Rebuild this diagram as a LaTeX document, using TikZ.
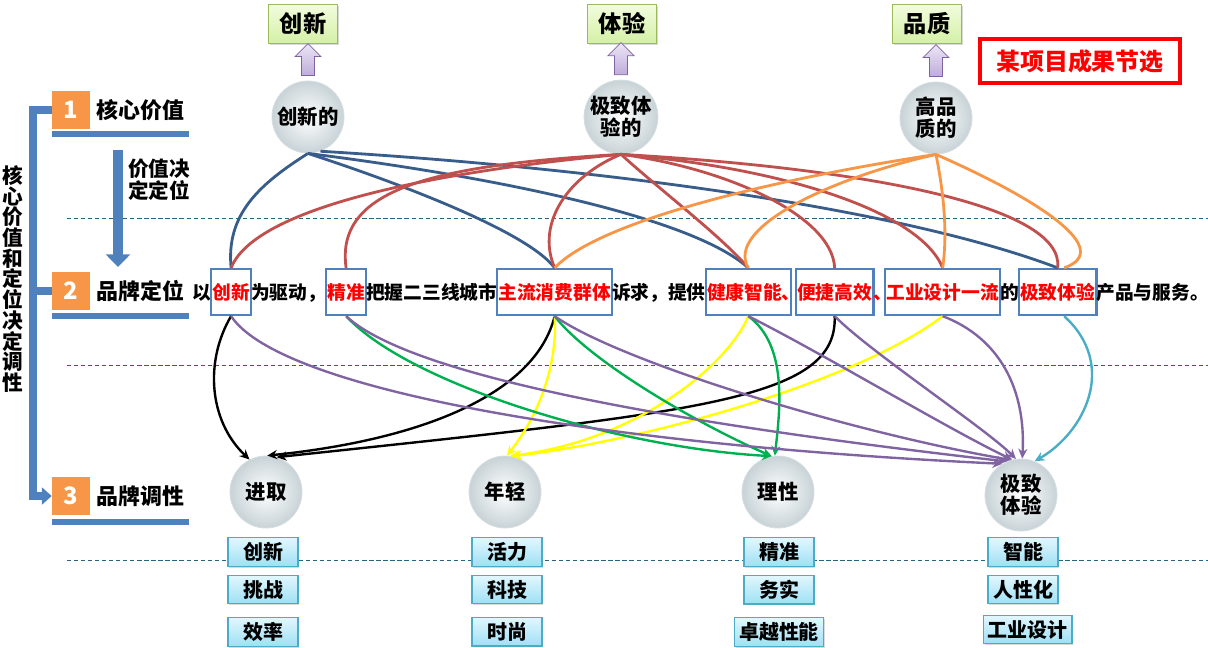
\documentclass[tikz,border=0pt]{standalone}
\usepackage{fontspec}
\setmainfont{Noto Sans CJK SC}
\usetikzlibrary{arrows.meta, positioning, calc, shadows}
\definecolor{frameB}{RGB}{79,129,189}
\definecolor{lineB}{RGB}{56,93,138}
\definecolor{lineR}{RGB}{192,80,77}
\definecolor{lineO}{RGB}{247,150,70}
\definecolor{lineP}{RGB}{128,100,162}
\definecolor{lineG}{RGB}{0,176,80}
\definecolor{lineY}{RGB}{255,255,0}
\definecolor{lineT}{RGB}{75,172,198}
\definecolor{numO}{RGB}{247,150,70}
\definecolor{dashC}{RGB}{40,100,128}
\definecolor{boxG}{RGB}{155,187,89}
\definecolor{topG}{RGB}{242,252,222}
\definecolor{botG}{RGB}{212,240,165}
\definecolor{tagTop}{RGB}{226,247,253}
\definecolor{tagBot}{RGB}{158,224,245}
\definecolor{ballOut}{RGB}{200,211,215}
\definecolor{ballRim}{RGB}{214,222,225}
\definecolor{lavTop}{RGB}{236,230,245}
\definecolor{lavBot}{RGB}{190,172,218}

\begin{document}
\begin{tikzpicture}[x=0.025cm, y=-0.025cm,
    every node/.style={font=\bfseries},
    plain/.style={inner sep=0pt, text height=11.7pt, text depth=1.7pt,
                  font=\bfseries\fontsize{13.3}{16}\selectfont},
    kw/.style={plain, draw=frameB, line width=1.6pt, fill=white, text=red,
               inner xsep=1pt, minimum height=1.15cm},
    numsq/.style={rectangle, fill=numO, text=white, minimum size=0.95cm, inner sep=0pt,
                  font=\bfseries\fontsize{17}{17}\selectfont},
    lbl/.style={inner sep=0pt, font=\bfseries\fontsize{15.6}{16}\selectfont},
    topbox/.style={rectangle, draw=boxG, line width=0.8pt, top color=topG, bottom color=botG,
                   minimum width=1.725cm, minimum height=0.975cm,
                   font=\bfseries\fontsize{16.5}{16.5}\selectfont,
                   drop shadow={shadow xshift=1pt, shadow yshift=-1pt, opacity=0.3}},
    ball/.style={circle, minimum size=1.8cm, inner sep=0pt, draw=ballRim, line width=0.6pt,
                 inner color=white, outer color=ballOut, align=center,
                 font=\bfseries\fontsize{14.5}{15.8}\selectfont},
    tag/.style={rectangle, draw=lineT, line width=0.8pt, top color=tagTop, bottom color=tagBot,
                minimum width=1.75cm, minimum height=0.7cm, inner xsep=3pt,
                font=\bfseries\fontsize{14.2}{14.2}\selectfont,
                drop shadow={shadow xshift=1pt, shadow yshift=-1pt, opacity=0.3}},
    redbox/.style={rectangle, draw=red, line width=2.8pt, text=red, minimum width=5cm,
                   minimum height=1.08cm, font=\bfseries\fontsize{17}{17}\selectfont},
    hollow/.style={draw=lineP, line width=0.5pt, top color=lavTop, bottom color=lavBot},
    dashln/.style={dashC, line width=0.7pt, dash pattern=on 3pt off 2pt},
    uline/.style={frameB, line width=3.6pt},
    bracket/.style={frameB, line width=5.5pt},
    link/.style={line width=2pt},
    arrow/.style={line width=1.7pt, -{Stealth[length=7pt, width=6.5pt]}}
  ]
    \useasboundingbox (0,0) rectangle (1208,647);

    % Dashed separators
    \draw[dashln] (67,218) -- (1208,218);
    \draw[dashln] (67,365) -- (1208,365);
    \draw[dashln] (67,560) -- (1208,560);

    % Left column
    \node[numsq] (n1) at (71,110) {1};
    \node[numsq] (n2) at (71,291) {2};
    \node[numsq] (n3) at (71,496) {3};
    \node[lbl, anchor=west] (l1) at (96,110) {核心价值};
    \node[lbl, anchor=west] (l2) at (96,291) {品牌定位};
    \node[lbl, anchor=west] (l3) at (96,496) {品牌调性};
    \draw[uline] (52,134) -- (189,134);
    \draw[uline] (52,316) -- (189,316);
    \draw[uline] (52,522) -- (189,522);

    \coordinate (brk) at (33,110);
    \draw[bracket, -{Triangle[length=7pt, width=12pt]}] (n1.west) -| (brk |- n3.west) -- (n3.west);
    \draw[bracket] (n2.west) -- (brk |- n2.west);
    \node[inner sep=0pt, align=center, font=\bfseries\fontsize{14.7}{14.7}\selectfont] (vtx) at (13,279)
      {核\\心\\价\\值\\和\\定\\位\\决\\定\\调\\性};

    \coordinate (dA) at (118,150);
    \coordinate (dB) at (118,267);
    \draw[frameB, line width=7pt, -{Triangle[length=9pt, width=17pt]}] (dA) -- (dB);
    \node[anchor=west, align=left, inner sep=0pt, font=\bfseries\fontsize{14.6}{15.6}\selectfont] (vdd) at (128,180)
      {价值决\\定定位};

    % Core values
    \node[topbox] (tCX) at (303,24) {创新};
    \node[topbox] (tTY) at (622,24) {体验};
    \node[topbox] (tPZ) at (927,24) {品质};
    \node[ball] (cxd) at (308,117) {创新的};
    \node[ball] (jzd) at (621,117) {极致体\\验的};
    \node[ball] (gpd) at (936,118) {高品\\质的};
    \draw[hollow] ($(cxd.north)+(-6.5,-5)$) -- ++(0,-19) -- ++(-6.5,0) -- ++(13,-13) -- ++(13,13) -- ++(-6.5,0) -- ++(0,19) -- cycle;
    \draw[hollow] ($(jzd.north)+(-6.5,-5)$) -- ++(0,-19) -- ++(-6.5,0) -- ++(13,-13) -- ++(13,13) -- ++(-6.5,0) -- ++(0,19) -- cycle;
    \draw[hollow] ($(gpd.north)+(-6.5,-5)$) -- ++(0,-19) -- ++(-6.5,0) -- ++(13,-13) -- ++(13,13) -- ++(-6.5,0) -- ++(0,19) -- cycle;
    \node[redbox] (rb) at (1080,61) {某项目成果节选};

    % Positioning sentence
    \node[plain, anchor=west] (s0) at (192,292) {以};
    \node[kw, right=-1pt of s0] (kCX) {创新};
    \node[plain, right=-1pt of kCX] (s1) {为驱动，};
    \node[kw, right=-1pt of s1] (kJZ) {精准};
    \node[plain, right=-1pt of kJZ] (s2) {把握二三线城市};
    \node[kw, right=-1pt of s2] (kZL) {主流消费群体};
    \node[plain, right=-1pt of kZL] (s3) {诉求，提供};
    \node[kw, right=-1pt of s3] (kJK) {健康智能\makebox[0.4em][l]{、}};
    \node[kw, right=2pt of kJK] (kBJ) {便捷高效};
    \node[plain, text=red, right=-1pt of kBJ] (s4) {、};
    \node[kw, right=-6pt of s4] (kGY) {工业设计一流};
    \node[plain, right=-1pt of kGY] (s5) {的};
    \node[kw, right=-1pt of s5] (kTY) {极致体验};
    \node[plain, right=-1pt of kTY] (s6) {产品与服务。};

    % Brand tonality
    \node[ball] (jq) at (266,492) {进取};
    \node[ball] (nq) at (505,492) {年轻};
    \node[ball] (lx) at (778,492) {理性};
    \node[ball] (jt) at (1021,495) {极致\\体验};

    \node[tag] (jq1) at (263,552) {创新};
    \node[tag, below=0.2cm of jq1] (jq2) {挑战};
    \node[tag, below=0.32cm of jq2] (jq3) {效率};
    \node[tag] (nq1) at (507,552) {活力};
    \node[tag, below=0.2cm of nq1] (nq2) {科技};
    \node[tag, below=0.32cm of nq2] (nq3) {时尚};
    \node[tag] (lx1) at (779,552) {精准};
    \node[tag, below=0.2cm of lx1] (lx2) {务实};
    \node[tag, below=0.32cm of lx2] (lx3) {卓越性能};
    \node[tag] (jt1) at (1023,552) {智能};
    \node[tag, below=0.2cm of jt1] (jt2) {人性化};
    \node[tag, below=0.26cm of jt2, xshift=0.12cm] (jt3) {工业设计};

    % Values -> positioning
    \draw[link, lineB] (cxd.south) .. controls (258,185) and (226,215) .. (kCX.north);
    \draw[link, lineB] (cxd.south) .. controls (420,190) and (530,235) .. (kZL.north);
    \draw[link, lineB] (cxd.south) .. controls (480,175) and (690,215) .. (kJK.north);
    \draw[link, lineB] (cxd.-70) .. controls (600,168) and (900,208) .. (kTY.north);

    \draw[link, lineR] (jzd.south) .. controls (430,172) and (255,208) .. (kCX.north);
    \draw[link, lineR] (jzd.south) .. controls (430,165) and (335,190) .. (kJZ.north);
    \draw[link, lineR] (jzd.south) .. controls (570,175) and (535,222) .. (kZL.north);
    \draw[link, lineR] (jzd.south) .. controls (660,190) and (720,235) .. (kJK.north);
    \draw[link, lineR] (jzd.south) .. controls (725,168) and (832,215) .. (kBJ.north);
    \draw[link, lineR] (jzd.south) .. controls (785,168) and (920,212) .. (kGY.north);
    \draw[link, lineR] (jzd.south) .. controls (860,168) and (1065,205) .. (kTY.north);

    \draw[link, lineO] (gpd.south) .. controls (780,178) and (600,220) .. (kZL.north);
    \draw[link, lineO] (gpd.south) .. controls (830,178) and (725,228) .. (kJK.north);
    \draw[link, lineO] (gpd.south) .. controls (943,190) and (948,230) .. (kGY.north);
    \draw[link, lineO] (gpd.south) .. controls (1040,200) and (1115,250) .. (kTY.75);

    % Positioning -> tonality
    \draw[arrow] (kCX.south) .. controls (205,360) and (208,420) .. (jq.117);
    \draw[arrow] (kZL.south) .. controls (535,395) and (420,440) .. (jq.88);
    \draw[arrow] (kBJ.south) .. controls (838,400) and (700,412) .. (jq.73);

    \draw[arrow, lineY] (kZL.south) .. controls (558,370) and (535,420) .. (nq.87);
    \draw[arrow, lineY] (kJK.south) .. controls (730,362) and (640,440) .. (nq.82);
    \draw[arrow, lineY] (kGY.south) .. controls (860,380) and (650,440) .. (nq.79);

    \draw[arrow, lineG] (kJZ.south) .. controls (410,385) and (620,448) .. (lx.100);
    \draw[arrow, lineG] (kZL.south) .. controls (590,362) and (700,425) .. (lx.100);
    \draw[arrow, lineG] (kJK.south) .. controls (788,345) and (780,410) .. (lx.95);

    \draw[arrow, lineP] (kCX.south) .. controls (280,390) and (600,445) .. (jt.121);
    \draw[arrow, lineP] (kJZ.south) .. controls (420,385) and (750,432) .. (jt.113);
    \draw[arrow, lineP] (kZL.south) .. controls (620,362) and (850,432) .. (jt.106);
    \draw[arrow, lineP] (kJK.south) .. controls (820,352) and (950,430) .. (jt.104);
    \draw[arrow, lineP] (kBJ.south) .. controls (870,352) and (985,428) .. (jt.98);
    \draw[arrow, lineP] (kGY.south) .. controls (1000,338) and (1026,390) .. (jt.88);
    \draw[arrow, lineT] (kTY.-75) .. controls (1118,365) and (1085,432) .. (jt.68);
\end{tikzpicture}
\end{document}
